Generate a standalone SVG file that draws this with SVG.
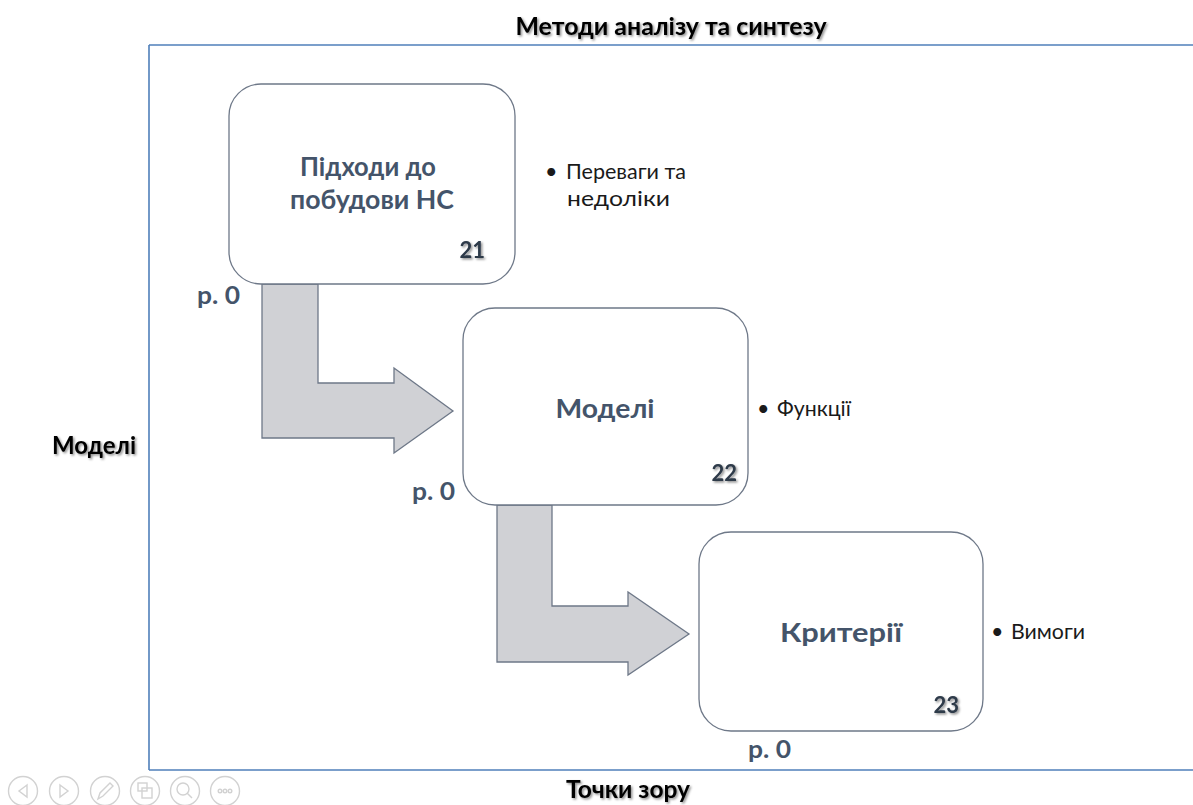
<svg xmlns="http://www.w3.org/2000/svg" width="1193" height="805" viewBox="0 0 1193 805">
  <style>
    .frame { fill: none; stroke: #4F7FBA; stroke-width: 1.6; }
    .box { fill: #FFFFFF; stroke: #6E7888; stroke-width: 1.3; }
    .flow { fill: #D0D1D5; stroke: #6E7888; stroke-width: 1.3; stroke-linejoin: miter; }
    .axis { font-family: Lato, "Liberation Sans", sans-serif; font-weight: bold; font-size: 24px; fill: #000000; }
    .title { font-family: Lato, "Liberation Sans", sans-serif; font-weight: bold; font-size: 27px; fill: #44546A; text-anchor: middle; }
    .num { font-family: Lato, "Liberation Sans", sans-serif; font-weight: bold; font-size: 22px; fill: #2E3A4A; text-anchor: end; }
    .lvl { font-family: Lato, "Liberation Sans", sans-serif; font-weight: bold; font-size: 24px; fill: #44546A; }
    .note { font-family: Lato, "Liberation Sans", sans-serif; font-size: 21.5px; fill: #1A1A1A; }
    .nav { fill: none; stroke: #D2D2D2; stroke-width: 1.4; }
  </style>
  <defs>
    <filter id="shadow" x="-10%" y="-20%" width="130%" height="160%">
      <feDropShadow dx="1.5" dy="1.5" stdDeviation="1.2" flood-color="#000000" flood-opacity="0.45"/>
    </filter>
  </defs>

  <!-- outer frame: top, left and bottom rules -->
  <g id="frame">
    <line class="frame" x1="149" y1="45" x2="1193" y2="45"/>
    <line class="frame" x1="149" y1="45" x2="149" y2="770"/>
    <line class="frame" x1="149" y1="770" x2="1193" y2="770"/>
  </g>

  <!-- axis captions -->
  <g id="axes">
    <text class="axis" x="671" y="35" text-anchor="middle" textLength="311" lengthAdjust="spacingAndGlyphs" filter="url(#shadow)">Методи аналізу та синтезу</text>
    <text class="axis" x="52" y="454" textLength="84" lengthAdjust="spacingAndGlyphs" filter="url(#shadow)">Моделі</text>
    <text class="axis" x="628" y="798" font-size="23" text-anchor="middle" textLength="124" lengthAdjust="spacingAndGlyphs" filter="url(#shadow)">Точки зору</text>
  </g>

  <!-- bent block arrows between steps -->
  <g id="connectors">
    <path class="flow" d="M262,284 L318,284 L318,383 L394,383 L394,368 L453,411 L394,453 L394,438 L262,438 Z"/>
    <path class="flow" d="M497,505 L552,505 L552,606 L628,606 L628,592 L689,634 L628,675 L628,662 L497,662 Z"/>
  </g>

  <g id="node-21">
    <rect class="box" x="229" y="84" width="286" height="200" rx="32"/>
    <text class="title" x="368" y="176" textLength="136" lengthAdjust="spacingAndGlyphs">Підходи до</text>
    <text class="title" x="372" y="209" textLength="164" lengthAdjust="spacingAndGlyphs">побудови НС</text>
    <text class="num" x="485" y="258" filter="url(#shadow)">21</text>
    <text class="lvl" x="197" y="304" textLength="43" lengthAdjust="spacingAndGlyphs">р. 0</text>
    <text class="note" x="545" y="179">•</text>
    <text class="note" x="566" y="179" textLength="120" lengthAdjust="spacingAndGlyphs">Переваги та</text>
    <text class="note" x="567" y="206" textLength="103" lengthAdjust="spacingAndGlyphs">недоліки</text>
  </g>

  <g id="node-22">
    <rect class="box" x="463" y="308" width="285" height="197" rx="32"/>
    <text class="title" x="605" y="418" textLength="99" lengthAdjust="spacingAndGlyphs">Моделі</text>
    <text class="num" x="737" y="481" filter="url(#shadow)">22</text>
    <text class="lvl" x="412" y="500" textLength="43" lengthAdjust="spacingAndGlyphs">р. 0</text>
    <text class="note" x="757" y="416">•</text>
    <text class="note" x="777" y="416" textLength="74" lengthAdjust="spacingAndGlyphs">Функції</text>
  </g>

  <g id="node-23">
    <rect class="box" x="699" y="532" width="284" height="199" rx="32"/>
    <text class="title" x="841" y="642" textLength="122" lengthAdjust="spacingAndGlyphs">Критерії</text>
    <text class="num" x="959" y="713" filter="url(#shadow)">23</text>
    <text class="lvl" x="748" y="758" textLength="43" lengthAdjust="spacingAndGlyphs">р. 0</text>
    <text class="note" x="991" y="639">•</text>
    <text class="note" x="1011" y="639" textLength="74" lengthAdjust="spacingAndGlyphs">Вимоги</text>
  </g>

  <!-- slide-show toolbar -->
  <g id="toolbar">
    <circle class="nav" cx="23" cy="791" r="14.5"/>
    <path class="nav" d="M27,785 L19,791 L27,797 Z"/>
    <circle class="nav" cx="64" cy="791" r="14.5"/>
    <path class="nav" d="M60,785 L68,791 L60,797 Z"/>
    <circle class="nav" cx="105" cy="791" r="14.5"/>
    <path class="nav" d="M98,799 L100,793 L110,783 L113,786 L103,796 Z"/>
    <circle class="nav" cx="145" cy="791" r="14.5"/>
    <rect class="nav" x="138" y="783" width="9" height="8"/>
    <rect class="nav" x="142" y="788" width="10" height="10"/>
    <circle class="nav" cx="185" cy="791" r="14.5"/>
    <circle class="nav" cx="183" cy="789" r="6"/>
    <line class="nav" x1="187" y1="793" x2="192" y2="798" stroke-width="2.5"/>
    <circle class="nav" cx="225" cy="791" r="14.5"/>
    <circle class="nav" cx="220" cy="791" r="1.8"/>
    <circle class="nav" cx="225" cy="791" r="1.8"/>
    <circle class="nav" cx="230" cy="791" r="1.8"/>
  </g>
</svg>
